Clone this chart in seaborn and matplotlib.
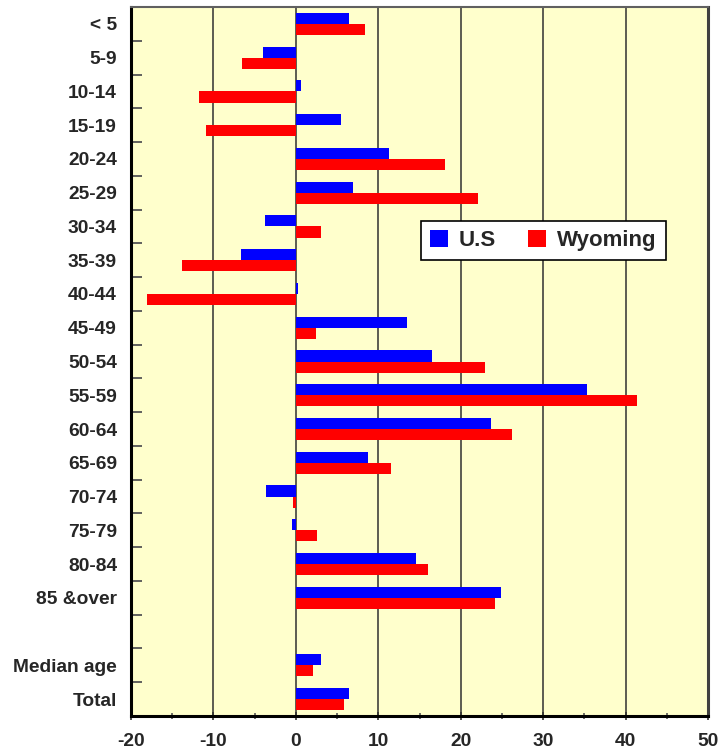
import matplotlib
matplotlib.use("Agg")
import matplotlib.pyplot as plt
from matplotlib.patches import Patch
from matplotlib.ticker import MultipleLocator, FixedLocator
import seaborn as sns
import pandas as pd
import numpy as np

categories = ["< 5", "5-9", "10-14", "15-19", "20-24", "25-29", "30-34", "35-39",
              "40-44", "45-49", "50-54", "55-59", "60-64", "65-69", "70-74", "75-79",
              "80-84", "85 &over", " ", "Median age", "Total"]
us_values = [6.5, -4.0, 0.6, 5.5, 11.3, 6.9, -3.8, -6.6, 0.25, 13.5, 16.5, 35.3,
             23.7, 8.8, -3.6, -0.5, 14.6, 24.9, np.nan, 3.1, 6.4]
wy_values = [8.4, -6.5, -11.7, -10.9, 18.1, 22.1, 3.0, -13.8, -18.0, 2.4, 22.9, 41.4,
             26.2, 11.6, -0.4, 2.6, 16.0, 24.2, np.nan, 2.1, 5.9]
series_names = ["U.S", "Wyoming"]
series_colors = ["#0000FF", "#FF0000"]
x_ticks = [-20, -10, 0, 10, 20, 30, 40, 50]

df = pd.DataFrame({
    "category": categories * 2,
    "value": us_values + wy_values,
    "series": [series_names[0]] * len(categories) + [series_names[1]] * len(categories),
})

sns.set_style("white")
plt.rcParams["font.family"] = ["Liberation Sans", "DejaVu Sans"]
plt.rcParams["axes.unicode_minus"] = False

fig = plt.figure(figsize=(7.19, 7.49), dpi=100)
ax = fig.add_axes([131 / 719, 1 - 716 / 749, (708 - 131) / 719, (716 - 7) / 749])
ax.set_facecolor("#FFFFCC")

sns.barplot(data=df, y="category", x="value", hue="series", order=categories,
            hue_order=series_names, palette=series_colors, orient="h",
            width=0.66, saturation=1, errorbar=None, linewidth=0, legend=False, ax=ax)

ax.set_xlim(-20, 50)
ax.set_ylim(len(categories) - 0.5, -0.5)
ax.set_xlabel("")
ax.set_ylabel("")

# vertical gridlines
for xv in x_ticks[1:-1]:
    ax.axvline(xv, color="#303030", lw=1.1, zorder=0.5)

ax.set_xticks(x_ticks)
ax.set_xticklabels([str(v) for v in x_ticks])
ax.xaxis.set_minor_locator(MultipleLocator(5))
ax.tick_params(axis="x", which="both", bottom=True, top=False)
ax.tick_params(axis="x", which="major", direction="inout", length=6, width=1.2,
               color="#333333", pad=9.5, labelsize=13.8)
ax.tick_params(axis="x", which="minor", direction="inout", length=4.5, width=1.2,
               color="#555555")
for lab in ax.get_xticklabels():
    lab.set_fontweight("bold")

ax.set_yticks(range(len(categories)))
ax.set_yticklabels(categories)
ax.yaxis.set_minor_locator(FixedLocator(np.arange(0.5, len(categories) - 1, 1.0)))
ax.tick_params(axis="y", which="both", left=True, right=False)
ax.tick_params(axis="y", which="major", length=0, pad=10, labelsize=13.8)
ax.tick_params(axis="y", which="minor", direction="in", length=8, width=1.3,
               color="#555555")
for lab in ax.get_yticklabels():
    lab.set_fontweight("bold")

for side in ["left", "bottom"]:
    ax.spines[side].set_color("black")
    ax.spines[side].set_linewidth(2.2)
ax.spines["top"].set_color("#606060")
ax.spines["top"].set_linewidth(1.5)
ax.spines["right"].set_color("#404040")
ax.spines["right"].set_linewidth(2.2)
for s in ax.spines.values():
    s.set_visible(True)
    s.set_zorder(3)

handles = [Patch(facecolor=c, edgecolor="none", label=n) for n, c in zip(series_names, series_colors)]
leg = ax.legend(handles=handles, loc="upper left",
                bbox_to_anchor=(420.7 / 719, 1 - 221 / 749), bbox_transform=fig.transFigure,
                ncol=2, borderaxespad=0, frameon=True, fancybox=False, framealpha=1,
                prop={"family": "Liberation Sans", "weight": "bold", "size": 16},
                handlelength=0.81, handleheight=0.81, handletextpad=0.5,
                columnspacing=1.45, borderpad=0.4)
leg.get_frame().set_edgecolor("black")
leg.get_frame().set_linewidth(1.2)

fig.savefig("out.png", dpi=100, facecolor="white")
